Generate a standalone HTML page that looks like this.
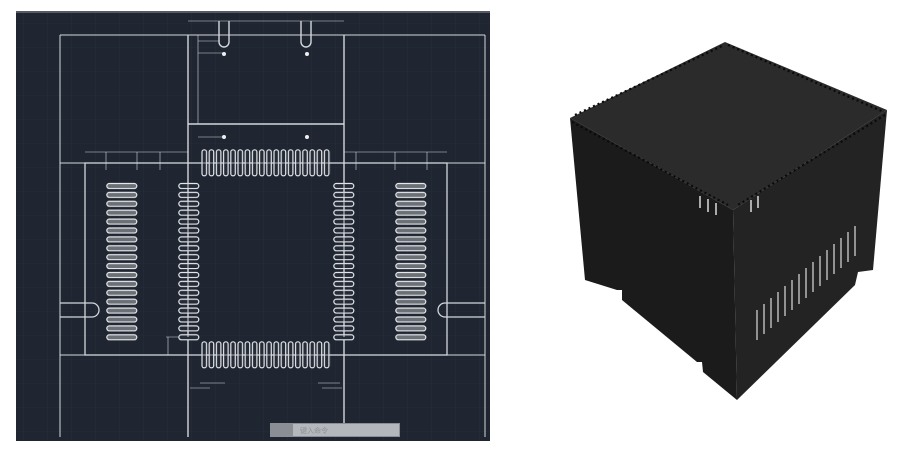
<!DOCTYPE html>
<html><head><meta charset="utf-8"><style>
html,body{margin:0;padding:0;background:#fff;width:908px;height:468px;overflow:hidden}
svg{display:block}
</style></head><body>
<svg width="908" height="468" viewBox="0 0 908 468" xmlns="http://www.w3.org/2000/svg">
<defs>
<pattern id="grid" width="24" height="24" patternUnits="userSpaceOnUse"><path d="M24 0V24H0" fill="none" stroke="#2a3240" stroke-width="0.6"/></pattern>
<pattern id="hs" x="0" y="0" width="40" height="8.9" patternUnits="userSpaceOnUse"><rect x="0.8" y="1.5" width="30" height="5" rx="2.5" fill="#6b7076" stroke="#e6e8ea" stroke-width="1.2"/></pattern>
<pattern id="hs2" x="0" y="0" width="40" height="8.9" patternUnits="userSpaceOnUse"><rect x="0.8" y="1.5" width="20" height="5" rx="2.5" fill="#252c38" stroke="#e6e8ea" stroke-width="1.2"/></pattern>
<pattern id="vs" x="0" y="0" width="7.2" height="40" patternUnits="userSpaceOnUse"><rect x="1" y="0.8" width="4.5" height="26" rx="2.2" fill="#252c38" stroke="#e6e8ea" stroke-width="1.2"/></pattern>
</defs>
<rect x="16" y="11" width="474" height="430" fill="#1f2632"/>
<rect x="16" y="11" width="474" height="430" fill="url(#grid)"/>
<rect x="16" y="11" width="474" height="2" fill="#555b63"/>
<g fill="none" stroke="#d4d7db" stroke-width="1">
<path d="M60 35V437M485 35V437M60 35H485M60 163H485M60 355H485"/>
<path d="M188 35V437M344 35V437M188 124H344" stroke-width="1.4"/>
<rect x="85" y="163" width="362" height="192" stroke-width="1.3"/>
<path d="M188 21H344M198 124V35M198 41H220M198 53H225M198 137H225M198 55V110" stroke-width="0.6"/>
<path d="M85 152H188M344 152H447M106 152V170M137 152V170M356 152V170M395 152V170M427 152V170M160 152V170" stroke-width="0.6"/>
<path d="M219 21V42a5 5 0 0 0 10 0V21M301 21V42a5 5 0 0 0 10 0V21" stroke-width="1.4"/>
<path d="M60 303H92a7 7 0 0 1 0 14H60M485 303H445a7 7 0 0 0 0 14H485" stroke-width="1.3"/>
<path d="M200 383H225M318 383H340M190 388H210M322 388H342M168 337V355M166 337H178" stroke-width="0.6"/>
</g>
<circle cx="224" cy="54" r="2" fill="#eee"/><circle cx="307" cy="54" r="2" fill="#eee"/>
<circle cx="224" cy="137" r="2" fill="#eee"/><circle cx="307" cy="137" r="2" fill="#eee"/>
<g transform="translate(106,182)"><rect width="32" height="160" fill="url(#hs)"/></g>
<g transform="translate(395,182)"><rect width="32" height="160" fill="url(#hs)"/></g>
<g transform="translate(178,182)"><rect width="22" height="160" fill="url(#hs2)"/></g>
<g transform="translate(333,182)"><rect width="22" height="160" fill="url(#hs2)"/></g>
<path d="M188 182V337M344 182V337" stroke="#d4d7db" stroke-width="1"/>
<g transform="translate(201,149)"><rect width="130" height="28" fill="url(#vs)"/></g>
<g transform="translate(201,341)"><rect width="130" height="28" fill="url(#vs)"/></g>
<path d="M201 163H331M201 355H331" stroke="#d4d7db" stroke-width="0.8"/>
<rect x="270" y="423" width="130" height="14" fill="#8b8f95"/>
<rect x="293" y="424" width="106" height="12" fill="#b4b7bb"/>
<text x="300" y="433" font-family="Liberation Sans, sans-serif" font-size="7" fill="#8e9196">键入命令</text>
<!-- cube -->
<polygon points="725,42 887,110 733,210 570,118" fill="#2b2b2b"/>
<polygon points="570,118 733,210 737,400 703,372 702,362 697,362 622,300 622,290 617,290 585,280" fill="#1b1b1b"/>
<polygon points="733,210 887,110 873,270 858,272 855,285 737,400" fill="#232323"/>
<g stroke="#0a0a0a" stroke-width="2.2">
<path d="M572 122 L728 205 M575 115 L722 46 M728 45 L884 112 M885 115 L738 205" stroke-dasharray="2 3"/>
</g>
<g stroke="#e8e8e8" stroke-width="1.4">
<path d="M700 196v12M708 199v13M716 203v12M751 200v12M758 196v12"/>
</g>
<g stroke="#dcdcdc" stroke-width="1.2">
<path d="M757 340v-30M764 334v-30M771 328v-30M778 322v-30M785 316v-30M792 310v-30M799 304v-30M806 298v-30M813 292v-30M820 286v-30M827 280v-30M834 274v-30M841 268v-30M848 262v-30M855 256v-30"/>
</g>
</svg>
</body></html>
